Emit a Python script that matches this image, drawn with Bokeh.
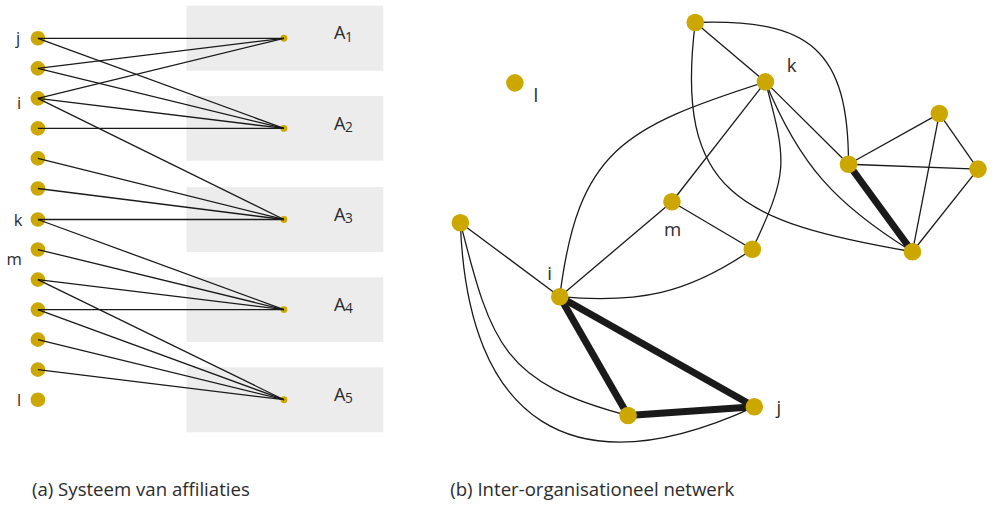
import math
from bokeh.plotting import figure
from bokeh.models import Range1d
from bokeh.embed import file_html
from bokeh.resources import INLINE
from bokeh.core.properties import value

# ---------------- Panel (a): system of affiliations ----------------
actor_x = 38
actor_y = [39, 70, 101, 132, 163, 194, 226, 257, 288, 319, 350, 381, 412]
actor_label_txt = ["j", "i", "k", "m", "l"]
actor_label_x = [18, 19, 18, 14, 19]
actor_label_y = [38, 105, 226, 266, 412]

aff_x = 288
aff_y = [39, 132, 226, 319, 412]
aff_main = ["A", "A", "A", "A", "A"]
aff_sub = ["1", "2", "3", "4", "5"]

# (actor index, affiliation index)
aff_edges = [(0, 0), (0, 1), (1, 0), (1, 1), (2, 0), (2, 1), (2, 2), (3, 1),
             (4, 2), (5, 2), (6, 2), (6, 3), (7, 3), (8, 3), (8, 4), (9, 3),
             (9, 4), (10, 4), (11, 4)]

# ---------------- Panel (b): inter-organisational network ----------------
net_names = ["top", "k", "l", "a", "b", "c", "d", "m", "e", "left", "i", "f", "j"]
net_x = [706, 777.3, 522.7, 954, 861.7, 993.3, 926.7, 682.3, 764, 467.3, 568.3, 637.7, 766]
net_y = [22.7, 84, 85, 116.7, 169, 174, 259.3, 207.7, 256.7, 229.3, 305.7, 428.3, 419.3]
net_label_txt = ["k", "l", "m", "i", "j"]
net_label_x = [804, 544, 683, 558, 791]
net_label_y = [66.5, 96.5, 235.5, 280.5, 419.5]

# straight edges: (source, target, strong tie)
straight_edges = [("top", "k", 0), ("k", "m", 0), ("k", "b", 0), ("b", "a", 0),
                  ("b", "c", 0), ("a", "c", 0), ("a", "d", 0), ("c", "d", 0),
                  ("m", "e", 0), ("m", "i", 0), ("left", "i", 0),
                  ("b", "d", 1), ("i", "f", 1), ("i", "j", 1), ("f", "j", 1)]
# curved edges: (source, target, leave angle, arrive angle, tension)
curved_edges = [("top", "b", -2, 90, 0.55), ("top", "d", 97, 10, 0.55),
                ("k", "i", 162, 97, 0.5), ("k", "e", 75, 115, 0.5),
                ("k", "d", 68, 32, 0.4), ("i", "e", 5, -35, 0.4),
                ("left", "f", 76, 15, 0.5), ("left", "j", 88, -25, 0.58)]

captions = ["(a) Systeem van affiliaties", "(b) Inter-organisationeel netwerk"]
caption_x = [32, 457]
caption_y = [504, 504]

GOLD = "#CBA700"
INK = "#1a1a1a"
TXT = "#2b2b2b"
FONT = value("Open Sans")

W, H = 990, 500          # canvas that fits the window
REF_W, REF_H = 1006, 516  # reference frame the data are read in
S = (W / REF_W + H / REF_H) / 2


def fs(px):
    return f"{px * S:.1f}px"


p = figure(width=W, height=H, x_range=Range1d(0, REF_W), y_range=Range1d(REF_H, 0),
           output_backend="svg", toolbar_location=None, min_border=0)
p.axis.visible = False
p.grid.visible = False
p.outline_line_color = None
p.background_fill_color = "white"

# boxes behind affiliations
p.rect(x=[aff_x + 1] * len(aff_y), y=aff_y, width=200, height=67,
       fill_color="#ececec", line_color=None)

# actors (lines drawn on top in this panel)
p.scatter(x=[actor_x] * len(actor_y), y=actor_y, size=15 * S, fill_color=GOLD, line_color=None)
p.scatter(x=[aff_x] * len(aff_y), y=aff_y, size=7 * S, fill_color=GOLD, line_color=None)
p.segment(x0=[actor_x] * len(aff_edges), y0=[actor_y[a] for a, _ in aff_edges],
          x1=[aff_x] * len(aff_edges), y1=[aff_y[b] for _, b in aff_edges],
          line_color=INK, line_width=1.3)

p.text(x=actor_label_x, y=actor_label_y, text=actor_label_txt, text_font=FONT,
       text_font_size=fs(17), text_align="center", text_baseline="middle", text_color=TXT)
p.text(x=[339] * 5, y=[v - 6 for v in aff_y], text=aff_main, text_font=FONT,
       text_font_size=fs(18.5), text_align="left", text_baseline="middle", text_color=TXT)
p.text(x=[350] * 5, y=[v - 1.5 for v in aff_y], text=aff_sub, text_font=FONT,
       text_font_size=fs(14), text_align="left", text_baseline="middle", text_color=TXT)

# network edges
pos = {n: (x, y) for n, x, y in zip(net_names, net_x, net_y)}
for strong in (0, 1):
    es = [e for e in straight_edges if e[2] == strong]
    p.segment(x0=[pos[s][0] for s, t, _ in es], y0=[pos[s][1] for s, t, _ in es],
              x1=[pos[t][0] for s, t, _ in es], y1=[pos[t][1] for s, t, _ in es],
              line_color=INK, line_width=7 if strong else 1.3)

bx0, by0, bx1, by1, cx0, cy0, cx1, cy1 = ([] for _ in range(8))
for s, t, a0, a1, k in curved_edges:
    (xs, ys), (xt, yt) = pos[s], pos[t]
    L = math.hypot(xt - xs, yt - ys)
    bx0.append(xs); by0.append(ys); bx1.append(xt); by1.append(yt)
    cx0.append(xs + k * L * math.cos(math.radians(a0)))
    cy0.append(ys + k * L * math.sin(math.radians(a0)))
    cx1.append(xt - k * L * math.cos(math.radians(a1)))
    cy1.append(yt - k * L * math.sin(math.radians(a1)))
p.bezier(x0=bx0, y0=by0, x1=bx1, y1=by1, cx0=cx0, cy0=cy0, cx1=cx1, cy1=cy1,
         line_color=INK, line_width=1.3)

p.scatter(x=net_x, y=net_y, size=18 * S, fill_color=GOLD, line_color=None)
p.text(x=net_label_x, y=net_label_y, text=net_label_txt, text_font=FONT,
       text_font_size=fs(19), text_align="center", text_baseline="middle", text_color=TXT)

p.text(x=caption_x, y=caption_y, text=captions, text_font=FONT,
       text_font_size=fs(19), text_align="left", text_baseline="middle", text_color=TXT)

open("out.html", "w").write(file_html(p, INLINE))
